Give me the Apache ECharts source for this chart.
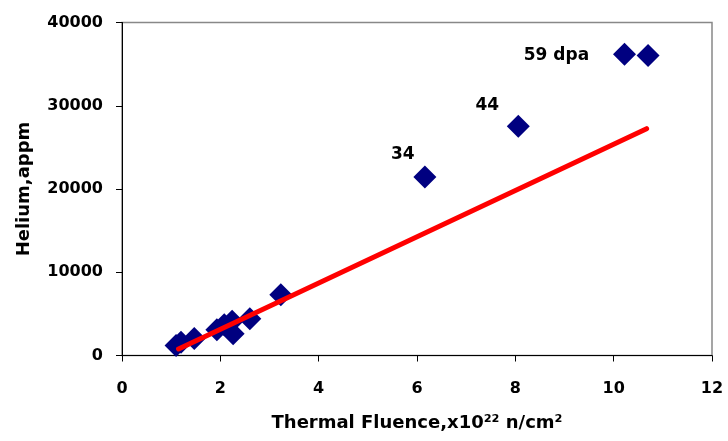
<!DOCTYPE html>
<html>
<head>
<meta charset="utf-8">
<script src="https://cdn.jsdelivr.net/npm/echarts@6/dist/echarts.min.js"></script>
<style>
html,body{margin:0;padding:0;background:#fff;}
#chart{width:728px;height:441px;}
</style>
</head>
<body>
<div id="chart"></div>
<script>
// Measured data (thermal fluence x1e22 n/cm2, helium appm)
var fluence = [1.1, 1.2, 1.47, 1.93, 2.08, 2.24, 2.26, 2.6, 3.23, 6.16, 8.06, 10.22, 10.7];
var helium  = [1200, 1600, 2050, 3100, 3700, 4100, 2600, 4400, 7300, 21450, 27550, 36200, 36050];
var pointLabels = ['', '', '', '', '', '', '', '', '', '34', '44', '59 dpa', ''];
var fitX = [1.15, 10.67];
var fitY = [780, 27250];
var xTicks = [0, 2, 4, 6, 8, 10, 12];
var yTicks = [0, 10000, 20000, 30000, 40000];

var FONT = 'DejaVu Sans';
var labelOffsets = {'34': [-22, -22], '44': [-31, -21], '59 dpa': [-68, 1]};

var scatterData = fluence.map(function (x, i) {
  var item = { value: [x, helium[i]] };
  var t = pointLabels[i];
  if (t) {
    item.label = {
      show: true, formatter: t, position: 'inside', offset: labelOffsets[t],
      color: '#000', fontFamily: FONT, fontWeight: 'bold', fontSize: 17
    };
  }
  return item;
});
var fitData = fitX.map(function (x, i) { return [x, fitY[i]]; });

var chart = echarts.init(document.getElementById('chart'), null, { renderer: 'canvas' });
chart.setOption({
  animation: false,
  backgroundColor: '#fff',
  grid: {
    left: 122, right: 16, top: 22.5, bottom: 85.5,
    show: true, borderColor: '#888', borderWidth: 1.5, backgroundColor: 'transparent'
  },
  xAxis: {
    type: 'value', min: xTicks[0], max: xTicks[xTicks.length - 1], interval: 2,
    name: 'Thermal Fluence,x10²² n/cm²',
    nameLocation: 'middle', nameGap: 59,
    nameTextStyle: { fontFamily: FONT, fontWeight: 'bold', fontSize: 18, color: '#000' },
    axisLine: { show: true, lineStyle: { color: '#000', width: 1 } },
    axisTick: { show: true, inside: false, length: 6, lineStyle: { color: '#000' } },
    axisLabel: { margin: 25, color: '#000', fontFamily: FONT, fontWeight: 'bold', fontSize: 16,
      formatter: function (v) { return String(v); } },
    splitLine: { show: false }
  },
  yAxis: {
    type: 'value', min: yTicks[0], max: yTicks[yTicks.length - 1], interval: 10000,
    name: 'Helium,appm',
    nameLocation: 'middle', nameGap: 89, nameRotate: 90,
    nameTextStyle: { fontFamily: FONT, fontWeight: 'bold', fontSize: 18, color: '#000' },
    axisLine: { show: true, lineStyle: { color: '#000', width: 1 } },
    axisTick: { show: true, inside: false, length: 6, lineStyle: { color: '#000' } },
    axisLabel: { margin: 19, color: '#000', fontFamily: FONT, fontWeight: 'bold', fontSize: 16,
      formatter: function (v) { return String(v); } },
    splitLine: { show: false }
  },
  series: [
    {
      type: 'scatter', data: scatterData, symbol: 'diamond', symbolSize: 23,
      itemStyle: { color: '#000080', opacity: 1 }, z: 2
    },
    {
      type: 'line', data: fitData, symbol: 'none', z: 3,
      lineStyle: { color: '#ff0000', width: 5, cap: 'round' }
    }
  ]
});
</script>
</body>
</html>
